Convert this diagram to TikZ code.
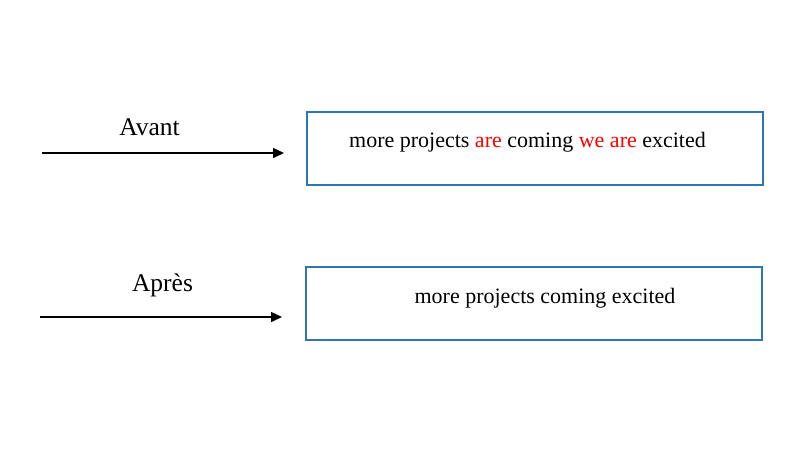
\documentclass[tikz,border=0pt]{standalone}
\usepackage{fontspec}
\setmainfont{Liberation Serif}
\usetikzlibrary{arrows.meta, positioning}
\definecolor{boxblue}{RGB}{46,117,182}

\begin{document}
\begin{tikzpicture}[x=1pt, y=-1pt,
    textbox/.style={draw=boxblue, line width=1.8pt, minimum width=456pt, minimum height=73pt, inner sep=0pt},
    lbl/.style={font=\fontsize{25.5}{30}\selectfont, inner sep=0pt},
    words/.style={font=\fontsize{22}{26}\selectfont, inner sep=0pt},
    flow/.style={line width=1.5pt, -{Triangle[length=11pt, width=10pt]}}]

    \useasboundingbox (0,0) rectangle (810,456);

    % Avant
    \node[textbox] (b1) at (535,148.5) {};
    \node[words, anchor=base] (t1) at (527.5,147) {more projects \textcolor{red}{are} coming \textcolor{red}{we are} excited};
    \coordinate (a1s) at (42,153);
    \coordinate (a1e) at (284,153);
    \draw[flow] (a1s) -- (a1e);
    \node[lbl, anchor=base] (l1) at (149.5,135) {Avant};

    % Apres
    \node[textbox] (b2) at (534,303.5) {};
    \node[words, anchor=base] (t2) at (545,303) {more projects coming excited};
    \coordinate (a2s) at (40,317);
    \coordinate (a2e) at (282,317);
    \draw[flow] (a2s) -- (a2e);
    \node[lbl, anchor=base] (l2) at (162.5,291) {Après};
\end{tikzpicture}
\end{document}
